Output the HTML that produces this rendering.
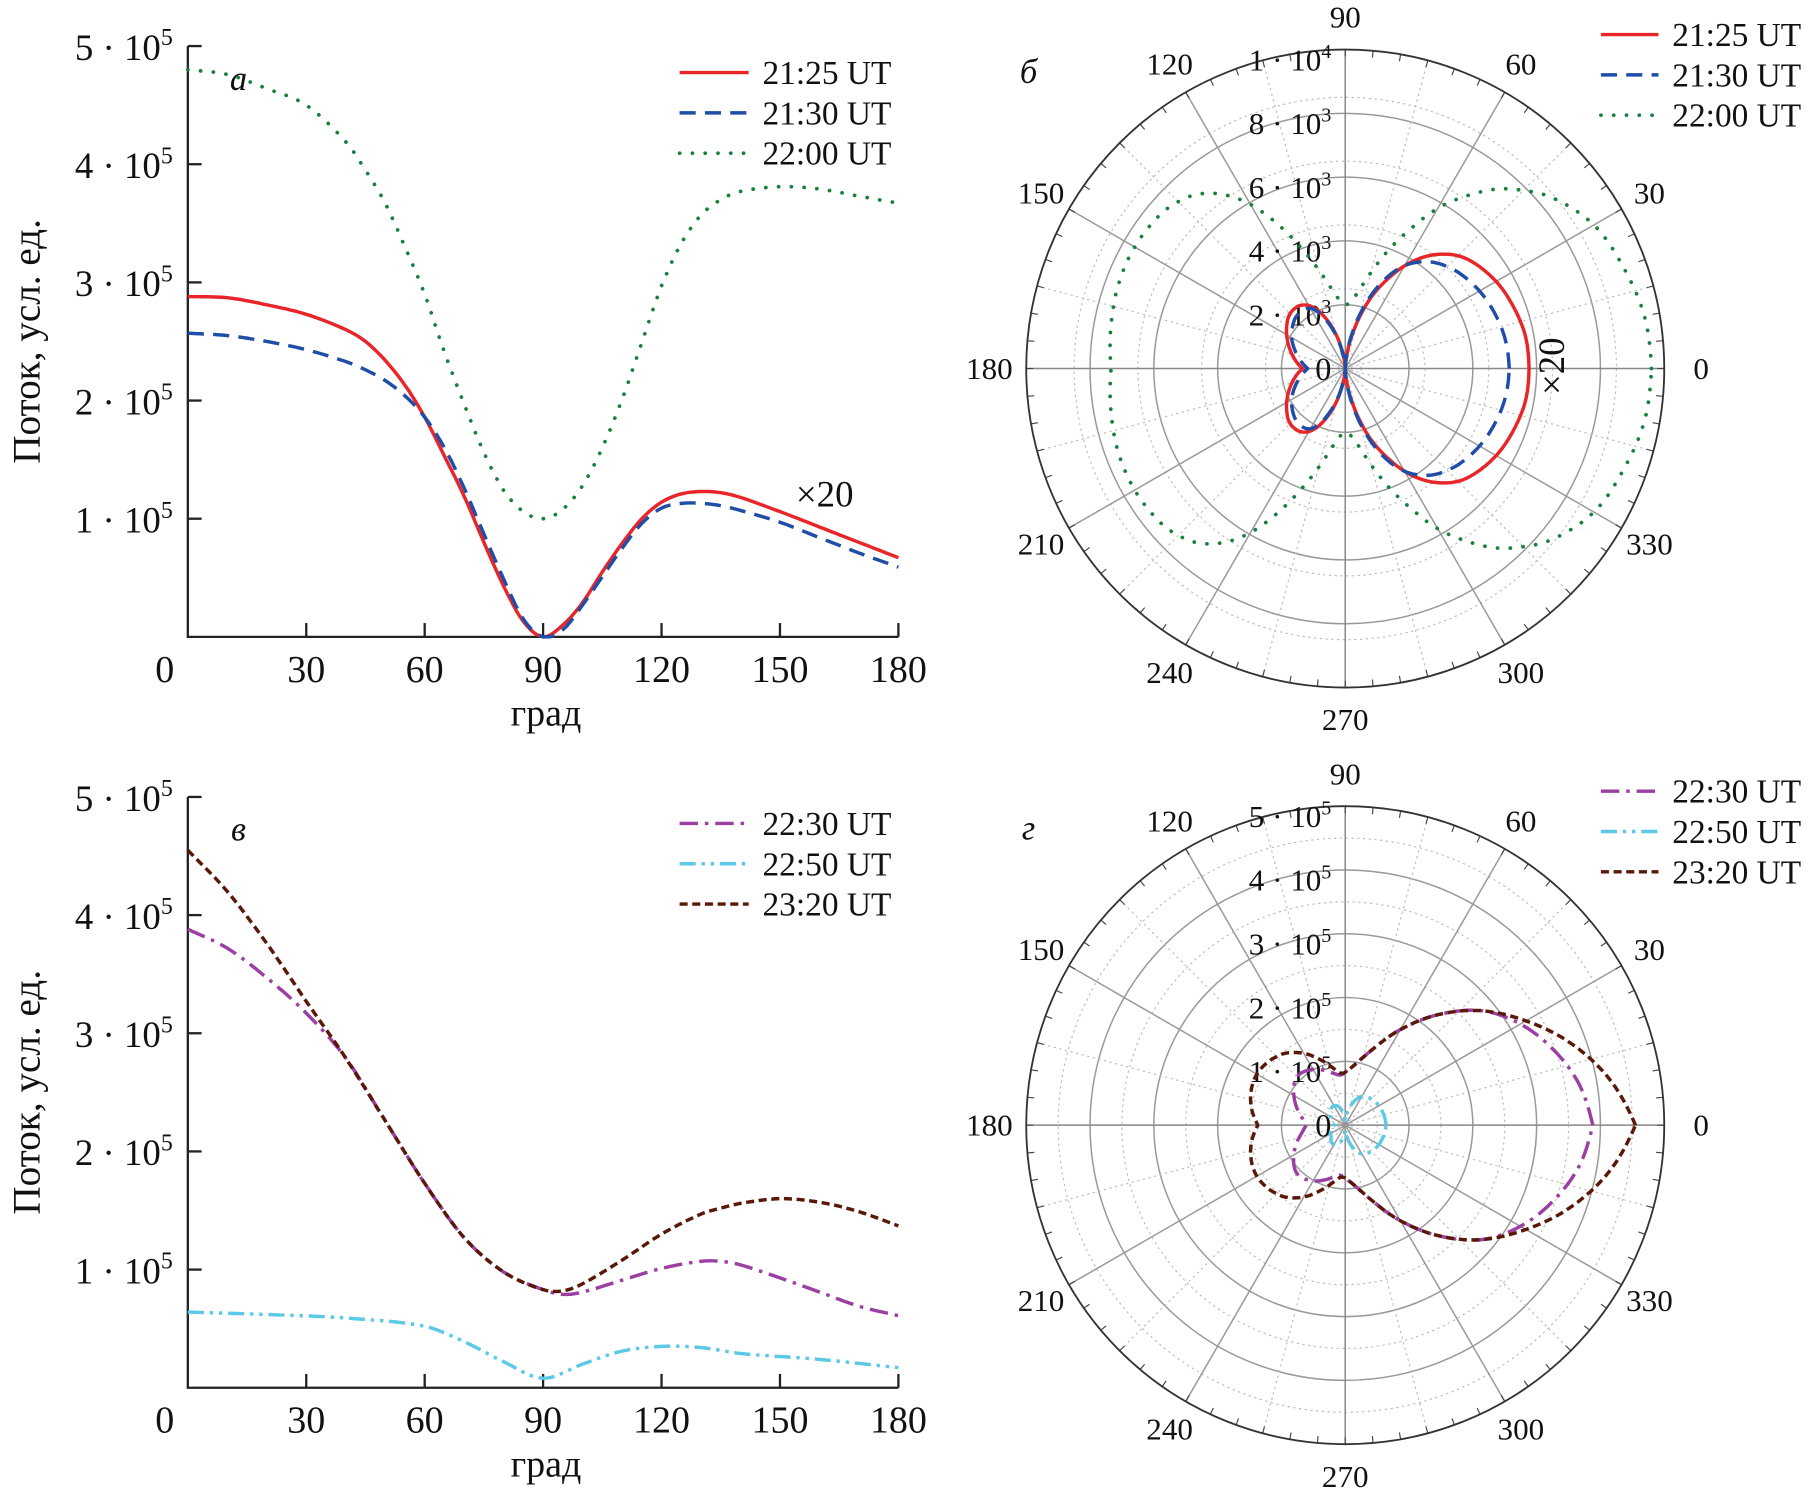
<!DOCTYPE html>
<html><head><meta charset="utf-8"><style>
html,body{margin:0;padding:0;background:#fff;}
svg{display:block;font-family:"Liberation Serif",serif;}
</style></head><body>
<svg id="fig" width="1806" height="1496" viewBox="0 0 1568 1299" xmlns="http://www.w3.org/2000/svg">
<rect width="1568" height="1299" fill="#fff"/>
<g id="pa"></g>
<g id="pb"></g>
<g id="pc"></g>
<g id="pd"></g>
</svg>
<script>
// ---- data (values in units of 1e5) ----
const angA = [0,10,20,30,40,45,50,55,60,65,70,75,80,85,90,95,100,105,110,115,120,125,130,135,140,150,160,170,180];
const red2125 = [2.88,2.87,2.81,2.73,2.60,2.50,2.34,2.13,1.86,1.53,1.19,0.80,0.43,0.13,0,0.10,0.29,0.55,0.79,1.00,1.14,1.21,1.23,1.22,1.18,1.06,0.93,0.80,0.67];
const blue2130 = [2.57,2.55,2.50,2.43,2.33,2.26,2.17,2.04,1.86,1.60,1.26,0.87,0.49,0.15,0,0.06,0.27,0.51,0.75,0.96,1.09,1.13,1.13,1.11,1.07,0.97,0.84,0.71,0.59];
const green2200 = [4.80,4.76,4.64,4.50,4.19,3.95,3.67,3.30,2.90,2.41,1.97,1.56,1.24,1.06,1.00,1.08,1.28,1.60,2.01,2.49,2.97,3.33,3.57,3.70,3.77,3.81,3.79,3.73,3.67];
const angC = [0,10,20,30,40,50,60,70,80,90,95,100,110,120,130,135,140,150,160,170,180];
const purple2230 = [3.88,3.72,3.47,3.17,2.79,2.26,1.73,1.27,0.98,0.83,0.79,0.81,0.91,1.01,1.07,1.07,1.04,0.93,0.81,0.69,0.61];
const brown2320 = [4.55,4.20,3.76,3.27,2.79,2.26,1.73,1.27,0.98,0.83,0.82,0.88,1.08,1.30,1.47,1.52,1.56,1.60,1.57,1.49,1.37];
const angCyan = [0,20,40,60,70,80,90,100,110,120,130,140,160,180];
const cyan2250 = [0.64,0.62,0.59,0.52,0.39,0.22,0.08,0.20,0.31,0.35,0.34,0.29,0.24,0.17];
const xTicks = [0,30,60,90,120,150,180];
const yTicks = [1,2,3,4,5];
const polarScaleB = 50; // panel б values = panel а values / 50, in 1e3 units
const ringsB = [2,4,6,8,10];
const ringsD = [1,2,3,4,5];

const NS="http://www.w3.org/2000/svg";
function mk(parent,tag,attrs){const e=document.createElementNS(NS,tag);for(const k in attrs)e.setAttribute(k,attrs[k]);parent.appendChild(e);return e;}
function txt(parent,x,y,s,size,anchor,extra){const t=mk(parent,'text',Object.assign({x:x,y:y,'font-size':size,'text-anchor':anchor||'start',fill:'#111'},extra||{}));t.textContent=s;return t;}
function pow(parent,x,y,m,e,size,anchor){const t=mk(parent,'text',{x:x,y:y,'font-size':size,'text-anchor':anchor||'end',fill:'#111'});
 const a=mk(t,'tspan',{});a.textContent=m+' · 10';const b=mk(t,'tspan',{dy:-size*0.4,'font-size':size*0.65});b.textContent=e;return t;}

const styles={
 red:{stroke:'#e8262a','stroke-width':3},
 blue:{stroke:'#1f4ea8','stroke-width':3,'stroke-dasharray':'14 8'},
 green:{stroke:'#17803a','stroke-width':3.2,'stroke-dasharray':'0.1 11','stroke-linecap':'round'},
 purple:{stroke:'#9b3fa3','stroke-width':3,'stroke-dasharray':'16 6 3 6'},
 cyan:{stroke:'#5cc9e6','stroke-width':3,'stroke-dasharray':'14 5 3 5 3 5'},
 brown:{stroke:'#5a1808','stroke-width':3,'stroke-dasharray':'7 4'}
};
function pathAttrs(st){return Object.assign({fill:'none','stroke-linejoin':'round'},st);}

// smooth (Catmull-Rom) interpolation of data at angle t
function interp(a,v,t){
 const n=a.length;let i=1;while(i<n-1&&t>a[i])i++;
 const x0=a[i-1],x1=a[i];const f=Math.max(0,Math.min(1,(t-x0)/(x1-x0)));
 const p0=v[Math.max(0,i-2)],p1=v[i-1],p2=v[i],p3=v[Math.min(n-1,i+1)];
 const h=x1-x0;
 const m1=(i-2>=0)?(p2-p0)/(x1-a[i-2])*h:(p2-p1);
 const m2=(i+1<n)?(p3-p1)/(a[i+1]-x0)*h:(p2-p1);
 const f2=f*f,f3=f2*f;
 return (2*f3-3*f2+1)*p1+(f3-2*f2+f)*m1+(-2*f3+3*f2)*p2+(f3-f2)*m2;
}

// Cartesian panel
function cart(g,top0,series,legend,label){
 const x0=163,x1=780,yb=top0+511,yt=top0-2;
 const X=v=>x0+(x1-x0)*v/180, Y=v=>yb-(yb-yt)*v/5;
 const ax=mk(g,'path',{d:`M${x0},${yt} V${yb} H${x1}`,fill:'none',stroke:'#222','stroke-width':2});
 
 xTicks.forEach(t=>{ if(t>0) mk(g,'line',{x1:X(t),x2:X(t),y1:yb,y2:yb-12,stroke:'#222','stroke-width':2});
  const l=txt(g,X(t)+(t===0?-20:0),yb+39,String(t),33,'middle');
  });
 yTicks.forEach(t=>{mk(g,'line',{x1:x0,x2:x0+12,y1:Y(t),y2:Y(t),stroke:'#222','stroke-width':2});
  const l=pow(g,150,Y(t)+12,t,5,32,'end');});
 const xl=txt(g,474,yb+77,'град',33,'middle');
 const yl=txt(g,0,0,'Поток, усл. ед.',34,'middle',{transform:`translate(34,${(yt+yb)/2}) rotate(-90)`});
 
 const pl=txt(g,207,top0+36,label,30,'middle',{'font-style':'italic'});
 series.forEach(s=>{let d='';for(let a=0;a<=180;a+=1){d+=(a?'L':'M')+X(a).toFixed(1)+','+Y(Math.max(0,interp(s.a,s.v,a))).toFixed(1);}
  const p=mk(g,'path',Object.assign({d:d},pathAttrs(styles[s.st])));
  });
 legend.forEach((s,i)=>{const y=top0+21+i*35;
  const ln=mk(g,'line',Object.assign({x1:590,x2:650,y1:y,y2:y},styles[s.st]));
  
  const t=txt(g,662,y+10,s.name,29,'start');});
}

function polar(g,cx,cy,rings,rmax,exp,series,legend,label,scale){
 const R=277;
 for(let k=0.5;k<rmax;k+=(rings[1]-rings[0])){mk(g,'circle',{cx:cx,cy:cy,r:R*k/rmax,fill:'none',stroke:'#bbb','stroke-width':1,'stroke-dasharray':'2 3'});}
 rings.forEach(r=>{if(r<rmax)mk(g,'circle',{cx:cx,cy:cy,r:R*r/rmax,fill:'none',stroke:'#999','stroke-width':1.3});});
 for(let a=15;a<360;a+=30){const t=a*Math.PI/180;mk(g,'line',{x1:cx,y1:cy,x2:cx+R*Math.cos(t),y2:cy-R*Math.sin(t),stroke:'#bbb','stroke-width':1,'stroke-dasharray':'2 3'});}
 for(let a=0;a<360;a+=30){const t=a*Math.PI/180;mk(g,'line',{x1:cx,y1:cy,x2:cx+R*Math.cos(t),y2:cy-R*Math.sin(t),stroke:a%90===0?'#888':'#999','stroke-width':1.3});
  const lr=R+(a%180===0?32:28);const l=txt(g,cx+lr*Math.cos(t),cy-lr*Math.sin(t)+9,String(a),27,'middle');
  }
 for(let a=0;a<360;a+=5){const t=a*Math.PI/180;mk(g,'line',{x1:cx+(R-6)*Math.cos(t),y1:cy-(R-6)*Math.sin(t),x2:cx+R*Math.cos(t),y2:cy-R*Math.sin(t),stroke:'#444','stroke-width':1});}
 const oc=mk(g,'circle',{cx:cx,cy:cy,r:R,fill:'none',stroke:'#333','stroke-width':1.6});
 
 const z=txt(g,cx-12,cy+10,'0',28,'end');
 rings.forEach(r=>{const y=cy-R*r/rmax;let l;
  if(exp===3) l=(r===rmax)?pow(g,cx-12,y+18,1,4,27,'end'):pow(g,cx-12,y+18,r,3,27,'end');
  else l=pow(g,cx-12,y+18,r,5,27,'end');
  });
 series.forEach(s=>{let d='';for(let a=0;a<=360;a+=1){const aa=a<=180?a:360-a;const r=Math.max(0,interp(s.a,s.v,aa))*scale;const rr=R*r/rmax;const t=a*Math.PI/180;
   d+=(a?'L':'M')+(cx+rr*Math.cos(t)).toFixed(1)+','+(cy-rr*Math.sin(t)).toFixed(1);}
  const p=mk(g,'path',Object.assign({d:d+'Z'},pathAttrs(styles[s.st])));
  });
 legend.forEach((s,i)=>{const y=cy-290+i*35;
  const ln=mk(g,'line',Object.assign({x1:1390,x2:1440,y1:y,y2:y},styles[s.st]));
  
  const t=txt(g,1452,y+10,s.name,29,'start');});
 const pl=txt(g,893,cy-248,label,30,'middle',{'font-style':'italic'});
}

const sA=[{name:'21:25 UT',st:'red',a:angA,v:red2125},{name:'21:30 UT',st:'blue',a:angA,v:blue2130},{name:'22:00 UT',st:'green',a:angA,v:green2200}];
const sC=[{name:'22:30 UT',st:'purple',a:angC,v:purple2230},{name:'22:50 UT',st:'cyan',a:angCyan,v:cyan2250},{name:'23:20 UT',st:'brown',a:angC,v:brown2320}];
cart(document.getElementById('pa'),42,sA,sA,'а');
cart(document.getElementById('pc'),694,sC,sC,'в');
const ga=document.getElementById('pa');
const x20=txt(ga,716,440,'×20',32,'middle');


polar(document.getElementById('pb'),1168,320,ringsB,10,3,sA,sA,'б',100/polarScaleB);
const gb=document.getElementById('pb');
const x20b=txt(gb,0,0,'×20',32,'middle',{transform:'translate(1358,318) rotate(-90)'});


polar(document.getElementById('pd'),1168,977,ringsD,5,5,sC,sC,'г',1);
</script>
</body></html>
